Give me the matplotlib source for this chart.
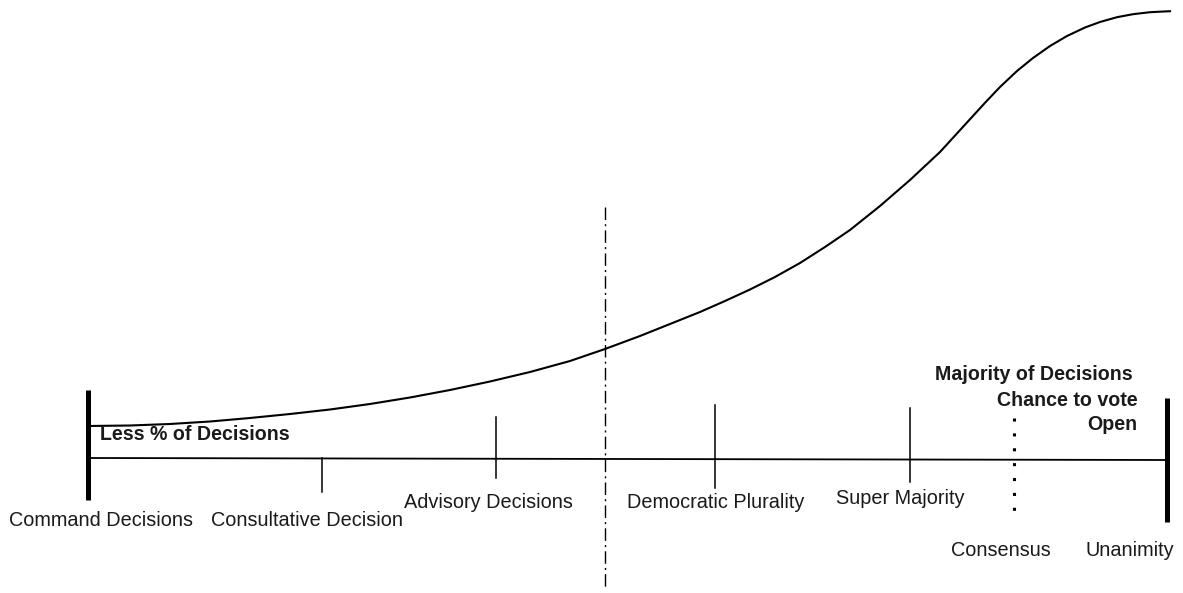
import matplotlib.pyplot as plt

plt.rcParams['font.family'] = ['Liberation Sans', 'DejaVu Sans']

# curve (pixel-like units, y grows downward)
curve_x = [88, 130, 170, 210, 250, 290, 330, 370, 410, 450, 490, 530, 570, 605, 640,
           670, 700, 725, 750, 775, 800, 825, 850, 880, 910, 940, 967, 985, 1000,
           1017, 1033, 1050, 1067, 1085, 1100, 1117, 1133, 1150, 1170]
curve_y = [426, 425.5, 424, 421.5, 418, 414, 409.5, 404, 397.5, 390, 381.5, 372, 361, 349, 336,
           324, 312, 301, 289.5, 277, 263, 247, 230, 206, 180, 152, 122.5, 102.8, 87,
           71, 58, 46, 36, 27.5, 22, 17.2, 14.2, 12.2, 11.2]

# scale positions and labels
scale_start, scale_end = 88, 1167
base_y = [458, 460]
mark_x = [322, 496, 715, 910]
mark_top = [458, 417, 405, 408]
mark_bottom = [492, 478, 488, 482]
labels = ['Command Decisions', 'Consultative Decision', 'Advisory Decisions',
          'Democratic Plurality', 'Super Majority', 'Consensus', 'Unanimity']
label_x = [101, 307, 488, 716, 900, 1001, 1130]
label_y = [521, 521, 502, 502, 499, 551, 551]
consensus_x = 1014
divide_x = 605

fig = plt.figure(figsize=(11.83, 5.93), dpi=100)
ax = fig.add_axes([0, 0, 1, 1])
ax.set_xlim(0, 1183)
ax.set_ylim(593, 0)
ax.axis('off')

ax.plot(curve_x, curve_y, color='black', lw=1.5, solid_joinstyle='round')

# base line and end bars
ax.plot([scale_start, scale_end], base_y, color='black', lw=1.3)
ax.plot([scale_start, scale_start], [390, 500], color='black', lw=3.6, solid_capstyle='butt')
ax.plot([scale_end, scale_end], [398, 522], color='black', lw=3.6, solid_capstyle='butt')

for x, t, b in zip(mark_x, mark_top, mark_bottom):
    ax.plot([x, x], [t, b], color='black', lw=1.1)

ax.plot([consensus_x, consensus_x], [418, 522], color='black', lw=2.2,
        linestyle=(0, (1, 3.87)), dash_capstyle='butt')

ax.plot([divide_x, divide_x], [207, 590], color='black', lw=1.0,
        linestyle=(0, (9, 3, 1.5, 3)))

for lab, x, y in zip(labels, label_x, label_y):
    ax.text(x, y, lab, ha='center', va='center', fontsize=14.3, color='#1a1a1a')

bold = dict(fontsize=14.1, fontweight='bold', color='#1a1a1a', va='center')
ax.text(100, 434, 'Less % of Decisions', ha='left', **bold)
ax.text(1133, 375, 'Majority of Decisions', ha='right', **bold)
ax.text(1138, 400, 'Chance to vote', ha='right', **bold)
ax.text(1137, 425, 'Open', ha='right', **bold)

fig.savefig('out.png', dpi=100, facecolor='white')
